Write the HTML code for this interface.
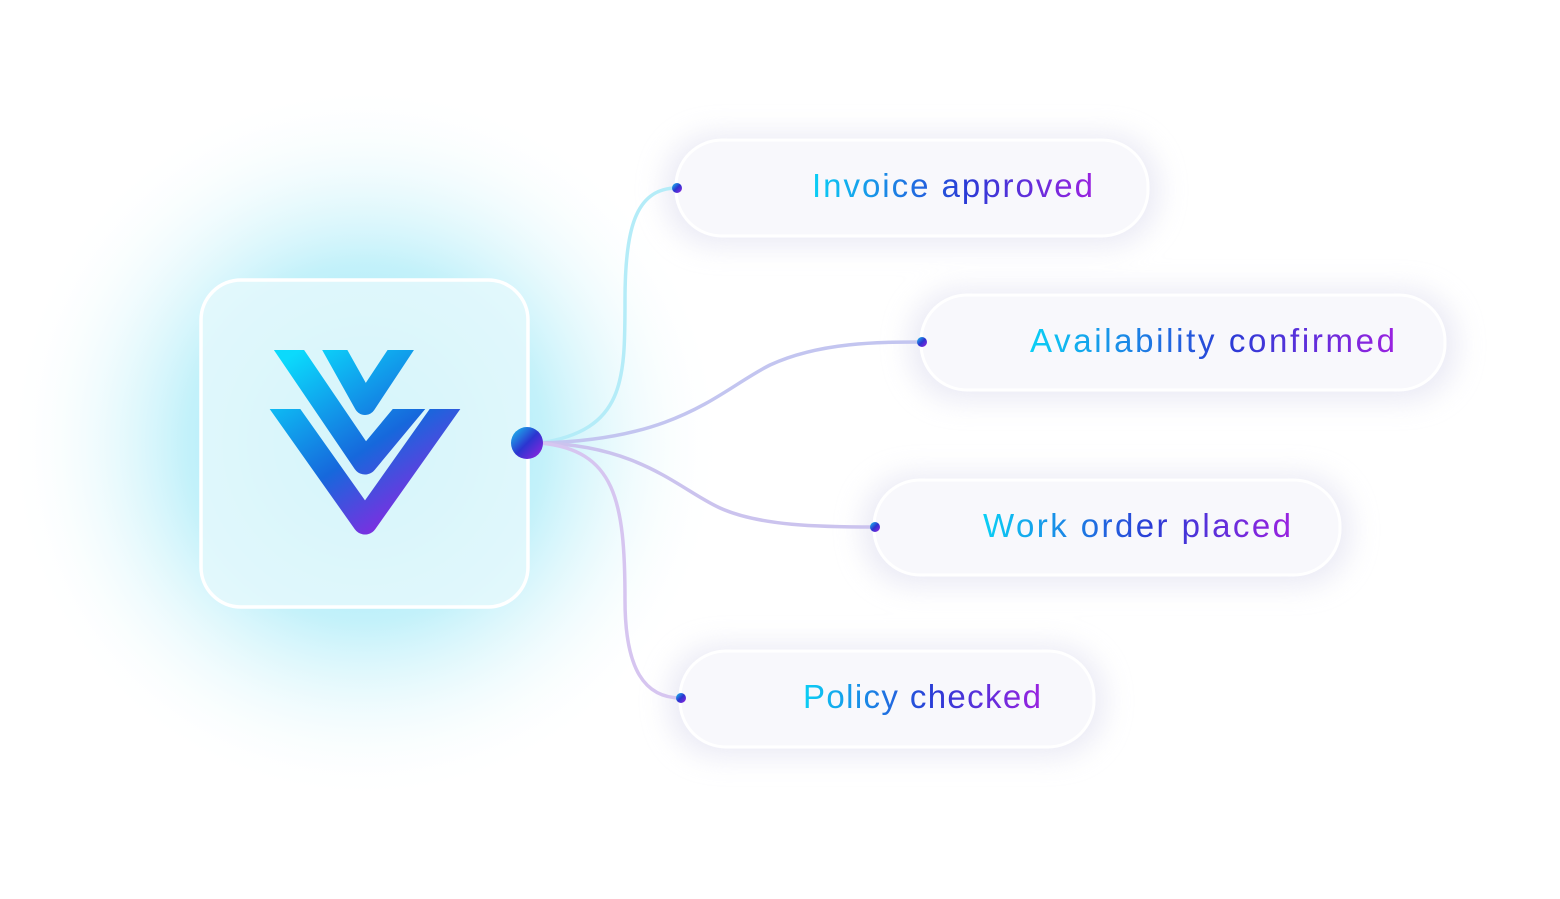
<!DOCTYPE html>
<html><head><style>
html,body{margin:0;padding:0;background:#fff;width:1560px;height:899px;overflow:hidden;font-family:"Liberation Sans",sans-serif}
</style></head><body>
<svg width="1560" height="899" viewBox="0 0 1560 899" xmlns="http://www.w3.org/2000/svg">
<defs>
<radialGradient id="glow" cx="365" cy="443" r="360" gradientUnits="userSpaceOnUse">
<stop offset="0" stop-color="#7fe2f5" stop-opacity="1"/>
<stop offset="0.5" stop-color="#b5eef9" stop-opacity="0.8"/>
<stop offset="0.75" stop-color="#e2f8fc" stop-opacity="0.5"/>
<stop offset="1" stop-color="#ffffff" stop-opacity="0"/>
</radialGradient>
<linearGradient id="tg" x1="0" x2="1" y1="0" y2="0">
<stop offset="0" stop-color="#0bd0f5"/><stop offset="0.55" stop-color="#2b3bd6"/><stop offset="1" stop-color="#9a22e0"/>
</linearGradient>
<linearGradient id="lg" x1="300" y1="350" x2="420" y2="530" gradientUnits="userSpaceOnUse">
<stop offset="0" stop-color="#0bdafc"/><stop offset="0.55" stop-color="#1668dc"/><stop offset="1" stop-color="#9a1ee2"/>
</linearGradient>
<linearGradient id="dg" x1="0" y1="0" x2="1" y2="1">
<stop offset="0" stop-color="#18c8f0"/><stop offset="0.5" stop-color="#2b35d0"/><stop offset="1" stop-color="#9a22e0"/>
</linearGradient>
<clipPath id="c1"><rect x="200" y="409" width="330" height="200"/></clipPath>
<clipPath id="c2"><rect x="200" y="350" width="330" height="250"/></clipPath>
<clipPath id="c3"><polygon points="200,350 365,350 365,409 530,409 530,600 200,600"/></clipPath>
<filter id="sh" x="-20%" y="-50%" width="140%" height="200%"><feGaussianBlur stdDeviation="14"/></filter>
</defs>
<rect width="1560" height="899" fill="#fff"/>
<circle cx="365" cy="443" r="360" fill="url(#glow)"/>
<g fill="#dcdcee" opacity="0.6" filter="url(#sh)">
<rect x="665" y="135" width="493" height="110" rx="50"/>
<rect x="910" y="290" width="546" height="110" rx="50"/>
<rect x="863" y="475" width="487" height="110" rx="50"/>
<rect x="669" y="646" width="435" height="110" rx="50"/>
</g>
<g fill="none" stroke-width="3.5" stroke-linecap="round">
<path d="M540 443 C625 430 625 380 625 300 C625 230 635 188 677 188" stroke="#b4ecf8"/>
<path d="M540 443 C680 440 720 390 770 365 C820 342 880 342 922 342" stroke="#c3c5f0"/>
<path d="M540 443 C640 445 680 490 720 508 C760 526 820 527 875 527" stroke="#cbc3ee"/>
<path d="M540 443 C615 450 625 500 625 600 C625 670 645 698 681 698" stroke="#d6c5f0"/>
</g>
<g fill="#f8f8fc" stroke="#ffffff" stroke-width="3">
<rect x="676" y="140" width="472" height="96" rx="46"/>
<rect x="921" y="295" width="524" height="95" rx="46"/>
<rect x="874" y="480" width="466" height="95" rx="46"/>
<rect x="680" y="651" width="414" height="96" rx="46"/>
</g>
<g fill="url(#dg)">
<circle cx="677" cy="188" r="5"/><circle cx="922" cy="342" r="5"/><circle cx="875" cy="527" r="5"/><circle cx="681" cy="698" r="5"/>
</g>
<g font-family="Liberation Sans, sans-serif" font-size="33" fill="url(#tg)" text-anchor="end">
<text x="1093" y="197" textLength="281">Invoice approved</text>
<text x="1395" y="352" textLength="365">Availability confirmed</text>
<text x="1291" y="537" textLength="308">Work order placed</text>
<text x="1041" y="708" textLength="238">Policy checked</text>
</g>
<rect x="201" y="280" width="327" height="327" rx="40" fill="#e4f8fc" fill-opacity="0.85" stroke="#ffffff" stroke-width="3.5"/>
<g fill="none" stroke="url(#lg)" stroke-linejoin="round">
<polyline points="268,385 365,522 462,385" stroke-width="25" clip-path="url(#c1)"/>
<polyline points="270,322 365,462 448,362" stroke-width="25" clip-path="url(#c3)"/>
<polyline points="318,320 365,404 414,330" stroke-width="22" clip-path="url(#c2)"/>
</g>
<circle cx="527" cy="443" r="16" fill="url(#dg)"/>
</svg>
</body></html>
